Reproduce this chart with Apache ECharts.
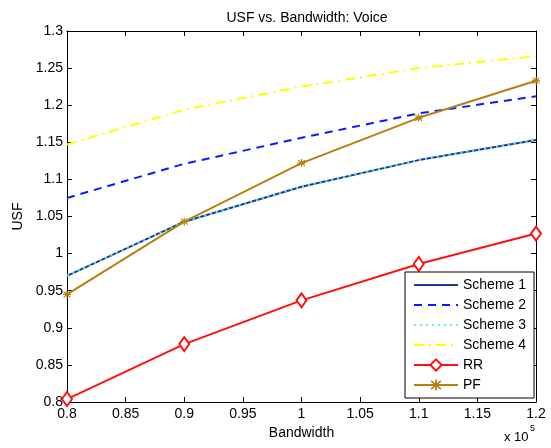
<!DOCTYPE html>
<html>
<head>
<meta charset="utf-8">
<script src="https://cdn.jsdelivr.net/npm/echarts@6/dist/echarts.min.js"></script>
<style>
  html, body { margin: 0; padding: 0; background: #fff; }
  #chart { width: 551px; height: 448px; }
</style>
</head>
<body>
<div id="chart"></div>
<script>
// Bandwidth samples (Hz) and USF per scheduling scheme
const bandwidth = [80000, 90000, 100000, 110000, 120000];
const scheme1 = [0.970, 1.043, 1.090, 1.126, 1.153];
const scheme2 = [1.075, 1.121, 1.156, 1.189, 1.212];
const scheme3 = [0.970, 1.043, 1.090, 1.126, 1.153];
const scheme4 = [1.147, 1.194, 1.225, 1.250, 1.266];
const rr      = [0.804, 0.878, 0.937, 0.986, 1.027];
const pf      = [0.945, 1.043, 1.122, 1.183, 1.233];

const FONT = '"Liberation Sans", Arial, Helvetica, sans-serif';
const pair = (ys) => bandwidth.map((x, i) => [x, ys[i]]);
const trimNum = (v) => String(+v.toFixed(2));

// asterisk marker: crossing bars
const asterisk = 'path://M-0.9,-6L0.9,-6L0.9,6L-0.9,6Z' +
  'M-5.8,-3.8L-4.6,-5.0L5.8,3.8L4.6,5.0Z' +
  'M4.6,-5.0L5.8,-3.8L-4.6,5.0L-5.8,3.8Z' +
  'M-6,-0.9L6,-0.9L6,0.9L-6,0.9Z';

function lineSeries(name, ys, color, type, extra) {
  return Object.assign({
    name: name,
    type: 'line',
    data: pair(ys),
    showSymbol: false,
    symbol: 'none',
    animation: false,
    lineStyle: { color: color, width: 2, type: type },
    itemStyle: { color: color },
    emphasis: { disabled: true }
  }, extra || {});
}

const chart = echarts.init(document.getElementById('chart'), null, { renderer: 'canvas' });

const axisCommon = {
  axisLine: { show: true, onZero: false, lineStyle: { color: '#000', width: 1 } },
  axisTick: { show: true, inside: true, length: 5, lineStyle: { color: '#000' } },
  splitLine: { show: false }
};

// plain-line legend entries carry no marker
const noMarker = (name) => ({ name: name, itemStyle: { opacity: 0 } });

chart.setOption({
  backgroundColor: '#fff',
  animation: false,
  textStyle: { fontFamily: FONT },
  title: {
    text: 'USF vs. Bandwidth: Voice',
    left: 302,
    top: 6,
    textAlign: 'center',
    textStyle: { fontSize: 14, fontWeight: 'normal', color: '#000', fontFamily: FONT }
  },
  grid: { left: 67, right: 15, top: 31, bottom: 46, containLabel: false },
  xAxis: [
    Object.assign({
      type: 'value', min: 80000, max: 120000, interval: 5000,
      name: 'Bandwidth', nameLocation: 'middle', nameGap: 23,
      nameTextStyle: { fontSize: 14, color: '#000', fontFamily: FONT },
      axisLabel: { fontSize: 14, color: '#000', margin: 5, fontFamily: FONT,
        formatter: (v) => trimNum(v / 100000) }
    }, axisCommon),
    Object.assign({
      type: 'value', min: 80000, max: 120000, interval: 5000, position: 'top',
      axisLabel: { show: false }
    }, axisCommon)
  ],
  yAxis: [
    Object.assign({
      type: 'value', min: 0.8, max: 1.3, interval: 0.05,
      name: 'USF', nameLocation: 'middle', nameGap: 41, nameRotate: 90,
      nameTextStyle: { fontSize: 14, color: '#000', fontFamily: FONT },
      axisLabel: { fontSize: 14, color: '#000', margin: 4, fontFamily: FONT,
        formatter: (v) => trimNum(v) }
    }, axisCommon),
    Object.assign({
      type: 'value', min: 0.8, max: 1.3, interval: 0.05, position: 'right',
      axisLabel: { show: false }
    }, axisCommon)
  ],
  legend: {
    orient: 'vertical',
    left: 405,
    top: 272,
    padding: [6, 8, 6, 8],
    itemWidth: 44,
    itemHeight: 14,
    itemGap: 6,
    backgroundColor: '#fff',
    borderColor: '#000',
    borderWidth: 1,
    borderRadius: 0,
    selectedMode: false,
    textStyle: { fontSize: 14, color: '#000', fontFamily: FONT },
    data: [noMarker('Scheme 1'), noMarker('Scheme 2'), noMarker('Scheme 3'),
           noMarker('Scheme 4'), 'RR', 'PF']
  },
  graphic: [
    { type: 'text', left: 504, top: 431,
      style: { text: 'x 10', fill: '#000', font: '13px ' + FONT } },
    { type: 'text', left: 530, top: 424,
      style: { text: '5', fill: '#000', font: '9px ' + FONT } }
  ],
  series: [
    lineSeries('Scheme 1', scheme1, '#22378f', 'solid'),
    lineSeries('Scheme 2', scheme2, '#0a1cff', [8, 6]),
    lineSeries('Scheme 3', scheme3, '#5ef2f5', [2, 4]),
    lineSeries('Scheme 4', scheme4, '#ffff00', [10, 5, 2, 5]),
    lineSeries('RR', rr, '#ff1010', 'solid', {
      showSymbol: true,
      symbol: 'diamond',
      symbolSize: [10, 14],
      itemStyle: { color: '#fff', borderColor: '#ff1010', borderWidth: 2 }
    }),
    lineSeries('PF', pf, '#b8800e', 'solid', {
      showSymbol: true,
      symbol: asterisk,
      symbolSize: 8,
      itemStyle: { color: '#b8800e' }
    })
  ]
});
</script>
</body>
</html>
